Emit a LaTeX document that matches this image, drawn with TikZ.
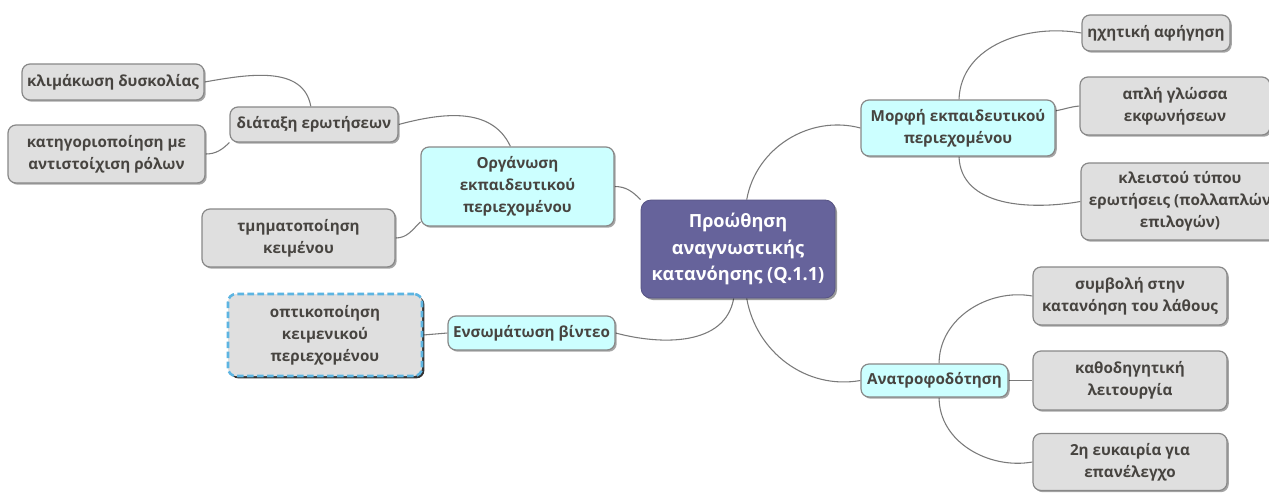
\documentclass[tikz,border=0pt]{standalone}
\usepackage{fontspec}
\setmainfont{Open Sans}
\usetikzlibrary{shadows,backgrounds}
\pgfdeclarelayer{paper}
\pgfsetlayers{paper,background,main}
\definecolor{boxgray}{HTML}{DFDFDF}
\definecolor{topiccyan}{HTML}{CCFFFF}
\definecolor{rootblue}{HTML}{66639B}
\definecolor{edgegray}{HTML}{888888}
\definecolor{linkgray}{HTML}{7A7A7A}
\definecolor{txt}{HTML}{474440}
\definecolor{dashblue}{HTML}{5DB5E2}
\begin{document}
\begin{tikzpicture}[x=0.75pt,y=-0.75pt,
  every node/.style={font=\bfseries\fontsize{11.4}{16.5}\selectfont, text=txt, align=center, inner sep=0pt},
  base/.style={rounded corners=6pt, draw=edgegray, line width=0.9pt,
    drop shadow={shadow xshift=1.3pt, shadow yshift=-1.3pt, opacity=0.35, fill=black}},
  leaf/.style={base, fill=boxgray},
  topic/.style={base, fill=topiccyan},
  root/.style={rounded corners=7.5pt, fill=rootblue, draw=rootblue!85!black, line width=0.6pt,
    text=white, font=\bfseries\fontsize{13.6}{20}\selectfont,
    drop shadow={shadow xshift=1.5pt, shadow yshift=-1.5pt, opacity=0.4, fill=black}},
  dashleaf/.style={rounded corners=6pt, fill=boxgray, draw=dashblue, line width=1.9pt,
    dash pattern=on 5pt off 2.5pt,
    drop shadow={shadow xshift=1.8pt, shadow yshift=-1.8pt, opacity=0.8, fill=black}},
  link/.style={draw=linkgray, line width=0.8pt},
]
\useasboundingbox (0,0) rectangle (1269,493);
\begin{pgfonlayer}{paper}
  \fill[white] (0,0) rectangle (1269,493);
\end{pgfonlayer}
\clip (0,0) rectangle (1269,493);

% central topic
\node[root, minimum width=145.5pt, minimum height=73.5pt] (root) at (738,249)
  {Προώθηση\\αναγνωστικής\\κατανόησης (Q.1.1)};

% left branch
\node[topic, minimum width=144.75pt, minimum height=59.25pt] (org) at (517.5,186.5)
  {Οργάνωση\\εκπαιδευτικού\\περιεχομένου};
\node[leaf, minimum width=126pt, minimum height=26.25pt] (diataxi) at (314,124.5)
  {διάταξη ερωτήσεων};
\node[leaf, minimum width=136.5pt, minimum height=27pt] (klimakosi) at (113,82)
  {κλιμάκωση δυσκολίας};
\node[leaf, minimum width=147.75pt, minimum height=43.5pt] (katigor) at (106.5,154)
  {κατηγοριοποίηση με\\αντιστοίχιση ρόλων};
\node[leaf, minimum width=144.75pt, minimum height=43.5pt] (tmimat) at (298.5,238)
  {τμηματοποίηση\\κειμένου};
\node[topic, minimum width=125.25pt, minimum height=25.5pt] (ensom) at (531.5,333)
  {Ενσωμάτωση βίντεο};
\node[dashleaf, minimum width=145.5pt, minimum height=61.5pt] (optiko) at (325,335)
  {οπτικοποίηση\\κειμενικού\\περιεχομένου};

% right branch
\node[topic, minimum width=145.5pt, minimum height=42pt] (morfi) at (958,128)
  {Μορφή εκπαιδευτικού\\περιεχομένου};
\node[leaf, minimum width=111pt, minimum height=27pt] (ixitiki) at (1156,33)
  {ηχητική αφήγηση};
\node[leaf, minimum width=142.5pt, minimum height=43.5pt] (apli) at (1175,106)
  {απλή γλώσσα\\εκφωνήσεων};
\node[leaf, minimum width=148.5pt, minimum height=57.75pt] (kleistou) at (1180,201.5)
  {κλειστού τύπου\\ερωτήσεις (πολλαπλών\\επιλογών)};
\node[topic, minimum width=110.25pt, minimum height=24.75pt] (anatrof) at (934.5,380.5)
  {Ανατροφοδότηση};
\node[leaf, minimum width=145.5pt, minimum height=43.5pt] (symvoli) at (1130,296)
  {συμβολή στην\\κατανόηση του λάθους};
\node[leaf, minimum width=145.5pt, minimum height=44.25pt] (kathodig) at (1130,380.5)
  {καθοδηγητική\\λειτουργία};
\node[leaf, minimum width=145.5pt, minimum height=42.75pt] (eukairia) at (1130,462)
  {2η ευκαιρία για\\επανέλεγχο};

% connectors, kept behind the boxes
\begin{scope}[on background layer]
  \draw[link] (org.east) to[out=0,in=135] (root.north west);
  \draw[link] (root.265) to[out=260,in=-15] (ensom.east);
  \draw[link] (root.80) to[out=80,in=165] (morfi.west);
  \draw[link] (root.280) to[out=280,in=190] (anatrof.west);
  \draw[link] (org.100) to[out=115,in=15] (diataxi.east);
  \draw[link] (org.200) to[out=225,in=0] (tmimat.east);
  \draw[link] (diataxi.100) to[out=100,in=10] (klimakosi.east);
  \draw[link] (diataxi.192) to[out=225,in=0] (katigor.east);
  \draw[link] (optiko.east) -- (ensom.west);
  \draw[link] (morfi.88) to[out=88,in=170] (ixitiki.west);
  \draw[link] (morfi.10) to[out=10,in=185] (apli.west);
  \draw[link] (morfi.272) to[out=272,in=190] (kleistou.west);
  \draw[link] (anatrof.75) to[out=90,in=170] (symvoli.west);
  \draw[link] (anatrof.east) -- (kathodig.west);
  \draw[link] (anatrof.285) to[out=270,in=190] (eukairia.west);
\end{scope}
\end{tikzpicture}
\end{document}
